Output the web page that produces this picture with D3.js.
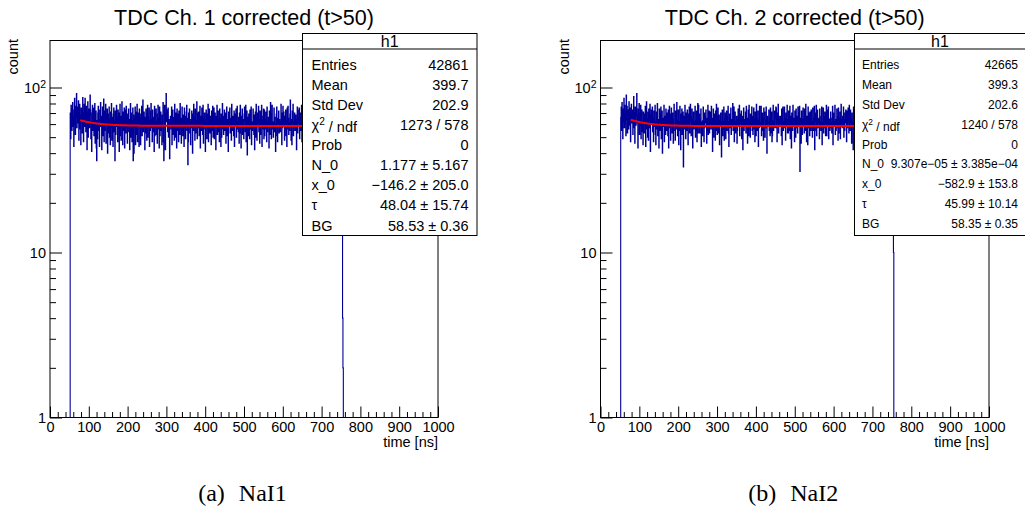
<!DOCTYPE html>
<html><head><meta charset="utf-8">
<script src="https://cdn.jsdelivr.net/npm/d3@7"></script>
<style>body{margin:0;background:#fff}svg{display:block}text{font-family:"Liberation Sans",Arial,Helvetica,sans-serif;fill:#000}text.cap{font-family:"Liberation Serif","DejaVu Serif",serif;word-spacing:8px}</style>
</head><body><svg id="c" width="1025" height="514"></svg>
<script>
// ---------------- data ----------------
const titles = ["TDC Ch. 1 corrected (t>50)", "TDC Ch. 2 corrected (t>50)"];
const captions = ["(a) NaI1", "(b) NaI2"];
const xTitle = "time [ns]";
const yTitle = "count";
const xTickValues = [0,100,200,300,400,500,600,700,800,900,1000];
const yTickValues = [1, 10, 100];
const yTickLabels = ["1", "10", "10^2"];
const firstBin = 52;           // first filled 1-ns bin (t>50)
const countsL = [
70,49,78,62,55,74,81,58,67,44, 73,86,60,52,77,65,92,57,69,76, 61,83,48,71,79,56,68,45,75,64, 72,53,87,60,47,70,79,58,86,66,
54,77,63,42,71,82,50,65,74,57, 68,90,73,49,62,41,70,78,55,64, 75,51,66,80,46,59,72,43,36,63, 49,70,77,55,64,44,73,58,81,60,
67,42,58,76,51,63,85,47,65,72, 55,79,46,68,61,74,40,69,53,62, 76,50,64,45,71,57,80,48,66,59, 44,69,75,54,63,36,72,52,60,78,
58,66,47,73,56,70,41,62,79,51, 67,48,59,82,61,45,71,55,64,75, 43,62,73,53,77,57,66,46,69,56, 74,54,64,42,60,80,50,70,61,47,
63,75,36,68,40,65,57,76,45,71, 52,64,79,47,60,70,58,44,74,66, 61,45,69,56,77,51,64,84,54,59, 71,57,42,66,53,74,61,48,69,78,
50,67,59,75,44,63,55,72,80,57, 64,47,73,54,66,60,41,77,51,70, 57,74,52,62,46,69,78,56,65,43, 76,51,63,71,55,61,45,68,58,81,
47,36,57,78,60,42,70,92,62,73, 69,54,75,50,64,58,37,61,67,59, 56,76,45,62,73,52,66,60,48,79, 64,50,70,57,43,74,61,55,69,47,
72,61,52,80,56,65,46,63,76,55, 51,68,62,44,75,57,67,49,60,71, 78,55,65,34,47,70,58,74,53,62, 45,64,57,72,61,40,69,55,79,60,
66,48,74,53,63,58,82,49,61,70, 57,71,51,62,77,43,60,67,55,75, 62,52,78,46,65,60,70,56,41,64, 73,58,49,69,56,79,47,62,74,54,
53,67,61,45,72,55,63,77,50,60, 75,49,62,70,58,42,67,60,78,52, 60,72,54,64,47,74,57,65,44,69, 50,62,80,56,67,52,61,73,55,64,
70,46,60,76,51,64,57,41,71,62, 58,75,53,65,61,48,79,60,55,67, 64,51,72,44,69,58,63,74,50,60, 77,56,62,54,66,46,70,53,78,63,
43,67,58,74,52,64,60,49,69,76, 62,54,78,47,63,72,39,66,58,51, 69,60,49,73,56,64,76,45,62,55, 57,74,63,52,68,42,60,71,50,79,
65,48,58,70,61,77,54,64,46,72, 52,70,60,78,44,63,56,67,74,49, 73,51,64,56,71,60,47,76,54,62, 60,66,43,72,52,64,81,58,49,69,
78,56,62,50,61,75,54,66,60,41, 51,69,76,58,47,65,61,72,53,64, 62,54,60,79,64,45,70,57,77,58, 71,61,48,67,56,73,51,63,44,75,
56,77,65,52,61,55,69,84,60,48, 64,45,72,61,79,51,62,58,70,55, 55,68,58,42,64,76,53,66,60,73, 75,49,62,70,55,60,78,47,68,57,
61,72,53,77,45,64,57,71,52,66, 49,60,78,56,68,61,43,75,62,54, 70,55,64,47,74,52,66,60,80,58, 58,76,51,66,60,71,48,63,56,77,
66,44,71,57,62,51,75,55,69,61, 54,64,60,76,49,68,57,41,65,72, 77,53,66,58,71,47,61,78,55,60, 60,70,48,63,57,74,53,66,45,68,
52,62,73,55,79,58,64,50,71,61, 70,57,61,46,66,60,77,54,63,52, 65,58,
4,2];
const countsR = [
66,76,55,81,70,49,74,62,86,57, 78,60,72,51,90,64,77,53,73,68, 56,82,67,59,75,47,71,79,61,69, 73,52,64,88,57,70,46,76,65,59,
75,92,68,61,43,74,63,80,52,70, 59,78,49,65,73,54,62,45,71,67, 53,69,61,77,44,63,82,56,65,50, 71,48,74,57,62,79,41,68,60,73,
61,76,54,65,47,72,58,63,78,52, 45,62,71,56,80,51,64,59,43,74, 69,55,63,76,49,61,72,40,65,58, 58,78,47,67,60,52,74,62,55,70,
65,51,73,43,63,77,57,69,48,61, 75,60,53,70,62,46,64,79,58,55, 48,72,61,56,81,63,51,60,73,45, 62,55,77,64,42,69,58,74,52,63,
71,33,60,67,56,78,62,49,70,61, 55,73,63,45,69,60,76,53,62,79, 67,51,58,74,61,43,64,71,56,62, 60,77,50,63,55,72,47,61,80,53,
78,58,69,53,64,60,74,44,62,57, 51,63,76,60,47,70,57,67,61,73, 62,46,65,55,78,52,61,72,53,64, 71,61,56,77,60,65,41,58,74,50,
57,69,62,48,72,55,79,61,52,67, 75,53,60,68,45,63,58,70,62,38, 61,73,51,62,56,76,48,65,60,70, 49,63,72,55,67,60,77,53,44,62,
69,57,61,75,52,64,58,63,80,55, 60,76,47,63,71,53,62,57,67,46, 55,64,74,58,61,78,51,69,60,62, 72,49,60,67,42,62,75,55,64,58,
62,71,53,77,57,65,46,61,73,51, 78,60,64,50,69,58,62,76,55,67, 52,61,75,56,65,47,71,60,51,79, 65,55,62,72,44,63,57,77,61,60,
58,77,51,61,70,55,65,48,75,64, 71,50,63,60,76,57,40,67,58,62, 61,73,55,65,51,75,62,53,71,47, 51,63,78,55,62,60,72,57,65,76,
75,57,47,70,61,79,53,64,58,67, 60,67,61,51,74,45,65,76,55,62, 57,76,65,60,48,70,58,62,78,53, 64,53,72,55,62,77,49,60,67,43,
70,61,55,78,58,65,62,47,72,60, 50,74,64,57,67,53,76,61,58,70, 77,31,60,65,46,72,62,52,64,75, 58,65,53,74,62,55,79,60,47,67,
64,45,76,57,70,61,51,71,60,55, 73,62,58,50,75,64,55,65,77,42, 55,70,62,78,51,60,73,57,64,61, 65,49,74,60,62,55,67,76,45,58,
61,75,53,67,57,71,61,51,70,78, 51,62,73,58,76,49,64,60,55,65, 71,57,61,53,65,77,45,70,62,58, 60,78,52,64,55,61,74,57,67,48,
75,53,65,60,71,49,62,79,58,64, 57,67,58,76,50,64,55,70,61,73, 64,47,72,57,62,75,65,53,78,60, 55,73,61,65,46,70,58,62,42,76,
70,60,77,53,64,57,73,50,65,61, 62,51,64,74,58,79,55,61,70,46, 58,72,50,62,67,60,76,56,64,53, 78,61,56,70,53,62,48,74,60,65,
52,65,75,58,62,55,67,61,44,71, 65,56,61,77,52,64,60,72,55,62, 60,74,53,62,70,47,65,58,76,56, 71,50,64,57,61,75,55,67,62,59,
56,62,70,49,73,60,78,53,61,65, 64,55,60,74,51,65,58,62,70,57, 61,54,
10];
const statLabels = ["Entries", "Mean", "Std Dev", "χ2 / ndf", "Prob", "N_0", "x_0", "τ", "BG"];
const statValuesL = ["42861", "399.7", "202.9", "1273 / 578", "0", "1.177 ± 5.167", "−146.2 ± 205.0", "48.04 ± 15.74", "58.53 ± 0.36"];
const statValuesR = ["42665", "399.3", "202.6", "1240 / 578", "0", "9.307e−05 ± 3.385e−04", "−582.9 ± 153.8", "45.99 ± 10.14", "58.35 ± 0.35"];
// fit: N_0 * exp(-(t + x_0)/tau) + BG   [N_0, x_0, tau, BG]
const fitParamsL = [1.177, -146.2, 48.04, 58.53];
const fitParamsR = [9.307e-5, -582.9, 45.99, 58.35];
const fitRange = [78, 660];

// ---------------- layout ----------------
const Y0 = 40.5, Y1 = 417.5, yMax = Math.pow(10, (Y1 - Y0) / 165);
const panels = [
  {x0: 50, x1: 438, counts: countsL, stats: statValuesL, fit: fitParamsL,
   box: {x: 302.5, y: 33.5, w: 174.5, h: 202}, fs: 14.5, rowY: 64.5, rowDy: 20.1, lx: 311.5, rx: 468.5, title: titles[0], caption: captions[0]},
  {x0: 600.5, x1: 989, counts: countsR, stats: statValuesR, fit: fitParamsR,
   box: {x: 854.5, y: 33.5, w: 171, h: 202}, fs: 12, rowY: 65, rowDy: 19.8, lx: 862, rx: 1018, title: titles[1], caption: captions[1]}
];

const svg = d3.select("#c");
const fontFam = '"Liberation Sans",Arial,Helvetica,sans-serif';

panels.forEach((P, pi) => {
  const g = svg.append("g");
  const x = d3.scaleLinear().domain([0, 1000]).range([P.x0, P.x1]);
  const y = d3.scaleLog().domain([1, yMax]).range([Y1, Y0]);
  const yv = v => v >= 1 ? y(v) : Y1;

  const clipId = "clip" + pi;
  svg.append("clipPath").attr("id", clipId).append("rect")
    .attr("x", P.x0).attr("y", Y0).attr("width", P.x1 - P.x0).attr("height", Y1 - Y0);

  // histogram (1 ns bins)
  const pts = [{t: firstBin, v: 0}];
  P.counts.forEach((v, k) => pts.push({t: firstBin + k, v}));
  pts.push({t: firstBin + P.counts.length, v: 0});
  g.append("path").datum(pts)
    .attr("clip-path", `url(#${clipId})`)
    .attr("d", d3.line().x(d => x(d.t)).y(d => yv(d.v)).curve(d3.curveStepAfter))
    .attr("fill", "none").attr("stroke", "#000099").attr("stroke-width", 1.1);

  // fit curve
  const [N0, X0, tau, BG] = P.fit;
  const fitPts = d3.range(fitRange[0], fitRange[1] + 0.5, 2).map(t => ({t, v: N0 * Math.exp(-(t + X0) / tau) + BG}));
  g.append("path").datum(fitPts)
    .attr("clip-path", `url(#${clipId})`)
    .attr("d", d3.line().x(d => x(d.t)).y(d => y(d.v)))
    .attr("fill", "none").attr("stroke", "#ff0000").attr("stroke-width", 2);

  // frame
  g.append("rect").attr("x", P.x0).attr("y", Y0).attr("width", P.x1 - P.x0).attr("height", Y1 - Y0)
    .attr("fill", "none").attr("stroke", "#000").attr("stroke-width", 1);

  // x axis
  const xa = g.append("g").attr("transform", `translate(0,${Y1})`)
    .call(d3.axisBottom(x).tickValues(xTickValues).tickSize(-11).tickPadding(4.2).tickFormat(d3.format("d")));
  const xm = g.append("g").attr("transform", `translate(0,${Y1})`)
    .call(d3.axisBottom(x).tickValues(d3.range(0, 1001, 20).filter(v => v % 100)).tickSize(-5.5).tickFormat(""));
  // y axis
  const ya = g.append("g").attr("transform", `translate(${P.x0},0)`)
    .call(d3.axisLeft(y).tickValues(yTickValues).tickSize(-12).tickPadding(4).tickFormat((d, i) => yTickLabels[i]));
  const minors = [];
  [1, 10].forEach(dec => { for (let m = 2; m <= 9; m++) if (dec * m < yMax) minors.push(dec * m); });
  const ym = g.append("g").attr("transform", `translate(${P.x0},0)`)
    .call(d3.axisLeft(y).tickValues(minors).tickSize(-6).tickFormat(""));
  [xa, xm, ya, ym].forEach(a => {
    a.select(".domain").remove();
    a.attr("font-family", fontFam).attr("font-size", 14.5);
    a.selectAll("line").attr("stroke", "#000");
  });
  ya.selectAll("text").each(function () {
    const t = d3.select(this); const s = t.text();
    if (s.includes("^")) {
      const [b, e] = s.split("^");
      t.text(b);
      t.append("tspan").attr("dy", "-0.45em").attr("font-size", 10.5).text(e);
    }
  });

  // titles
  g.append("text").attr("x", (P.x0 + P.x1) / 2).attr("y", 25).attr("text-anchor", "middle")
    .attr("font-size", 21.5).text(P.title);
  g.append("text").attr("x", P.x1).attr("y", 447).attr("text-anchor", "end")
    .attr("font-size", 14.5).text(xTitle);
  g.append("text").attr("transform", `translate(${P.x0 - 32},39) rotate(-90)`).attr("text-anchor", "end")
    .attr("font-size", 14.5).text(yTitle);

  // stats box
  const B = P.box;
  g.append("rect").attr("x", B.x).attr("y", B.y).attr("width", B.w).attr("height", B.h)
    .attr("fill", "#fff").attr("stroke", "#000").attr("stroke-width", 1);
  g.append("line").attr("x1", B.x).attr("x2", B.x + B.w).attr("y1", 49).attr("y2", 49).attr("stroke", "#000");
  g.append("text").attr("x", B.x + B.w / 2).attr("y", 47.3).attr("text-anchor", "middle")
    .attr("font-size", 16).text("h1");
  statLabels.forEach((lab, i) => {
    const by = P.rowY + i * P.rowDy + P.fs * 0.36;
    const t = g.append("text").attr("x", P.lx).attr("y", by).attr("font-size", P.fs);
    if (lab.startsWith("χ2")) {
      t.text("χ");
      t.append("tspan").attr("dy", "-0.5em").attr("font-size", P.fs * 0.7).text("2");
      t.append("tspan").attr("dy", "0.5em").text(lab.slice(2));
    } else t.text(lab);
    g.append("text").attr("x", P.rx).attr("y", by).attr("text-anchor", "end")
      .attr("font-size", P.fs).text(P.stats[i]);
  });

  // caption
  g.append("text").attr("class", "cap").attr("x", (P.x0 + P.x1) / 2 - 1.5).attr("y", 501).attr("text-anchor", "middle")
    .attr("font-size", 24).text(P.caption);
});
</script>
</body></html>
